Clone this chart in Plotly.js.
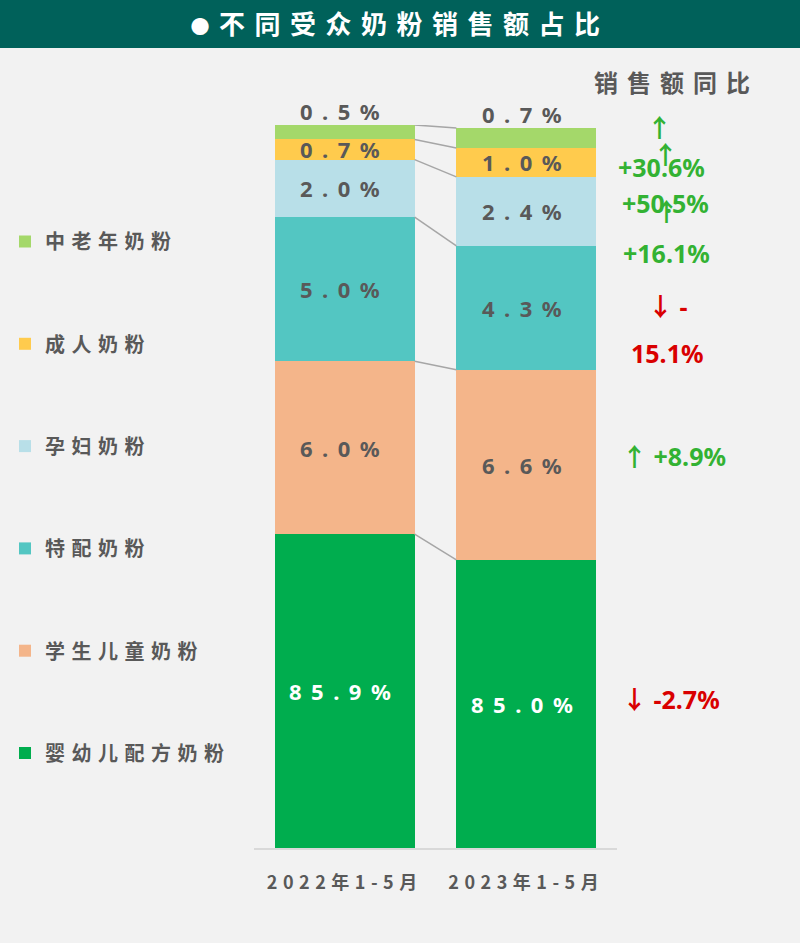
<!DOCTYPE html>
<html>
<head>
<meta charset="utf-8">
<script src="https://cdn.plot.ly/plotly-3.0.1.min.js"></script>
<style>
  html, body { margin: 0; padding: 0; background: #f2f2f2; }
  #chart { width: 800px; height: 943px; }
  .legendtext { letter-spacing: 6.5px; }
  .xtick text { letter-spacing: 5.5px; }
  .gtitle { letter-spacing: 9.5px; }
</style>
</head>
<body>
<div id="chart"></div>
<script>
// ---- data ----
const categories = ['2022年1-5月', '2023年1-5月'];
const segments = ['婴幼儿配方奶粉', '学生儿童奶粉', '特配奶粉', '孕妇奶粉', '成人奶粉', '中老年奶粉'];
const share2022 = [85.9, 6.0, 5.0, 2.0, 0.7, 0.5];
const share2023 = [85.0, 6.6, 4.3, 2.4, 1.0, 0.7];
const yoyChange = [-2.7, 8.9, -15.1, 16.1, 50.5, 30.6];
const colors = ['#00ad4e', '#f4b58a', '#53c6c2', '#b8dfe8', '#ffcb4d', '#a4d86a'];
const titleText = '不同受众奶粉销售额占比';
const yoyHeader = '销售额同比';

// ---- geometry / style ----
const W = 800, H = 943;
const M = {l: 254, r: 183, t: 125, b: 95, autoexpand: false};
const PW = W - M.l - M.r, PH = H - M.t - M.b;
const yMin = 75;                       // broken axis start
const yMax = Math.max(share2022.reduce((a, b) => a + b, 0), share2023.reduce((a, b) => a + b, 0));
const barW = 0.77;
const grey = '#595959';
const green = '#33b233', red = '#d90000';
const px = x => (x - M.l) / PW;
const py = y => (H - M.b - y) / PH;

const shares = [share2022, share2023];
const cums = shares.map(s => { let c = 0; return s.map(v => (c += v)); });

const traces = [];
// connector lines between stacked boundaries
for (let k = 0; k < segments.length; k++) {
  if (cums[0][k] < yMin || cums[1][k] < yMin) continue;
  traces.push({
    type: 'scatter', mode: 'lines',
    x: [0 + barW / 2, 1 - barW / 2],
    y: [cums[0][k], cums[1][k]],
    line: {color: '#a6a6a6', width: 1.5},
    showlegend: false, hoverinfo: 'skip', legendgroup: 'lines'
  });
}
segments.forEach((name, i) => {
  traces.push({
    type: 'bar', name: name,
    x: [0, 1], y: [share2022[i], share2023[i]],
    width: barW,
    marker: {color: colors[i], line: {width: 0}},
    legendgroup: 'g' + i,
    legendrank: 1000 + (segments.length - i),
    hoverinfo: 'none'
  });
});

const annotations = [];
const fmt = v => v.toFixed(1) + '%';
const lsSpan = (t, ls) => '<span style="letter-spacing:' + ls + 'px">' + t + '</span>';
const arrowSpan = a => '<span style="font-family:\'Noto Sans CJK SC\'">' + a + '</span>';

// segment value labels
shares.forEach((s, j) => {
  s.forEach((v, i) => {
    const top = cums[j][i], bottom = Math.max(i === 0 ? 0 : cums[j][i - 1], yMin);
    const isTop = i === s.length - 1;
    annotations.push({
      xref: 'x', yref: 'y', x: j, xanchor: 'center',
      y: isTop ? top : (top + bottom) / 2,
      yanchor: isTop ? 'bottom' : 'middle',
      yshift: isTop ? -3 : 0,
      text: lsSpan(fmt(v), 9.5),
      showarrow: false,
      font: {size: 22, color: i === 0 ? '#ffffff' : grey, family: 'Noto Sans, sans-serif', weight: 'bold'}
    });
  });
});

// YoY header
annotations.push({
  xref: 'paper', yref: 'paper', x: px(676), xanchor: 'center', y: py(81), yanchor: 'middle',
  text: lsSpan(yoyHeader, 9), showarrow: false,
  font: {size: 24, color: grey, family: 'Noto Sans CJK SC', weight: 'bold'}
});

// YoY labels (split lines as wrapped in the reference)
const yoyStyle = [
  {wrap: false, x: [671], dy: [-6]},
  {wrap: false, x: [674], dy: [-10]},
  {wrap: true, x: [668, 667], dy: [-3, 45]},
  {wrap: true, x: [666, 666], dy: [-1, 42]},
  {wrap: true, x: [665, 665], dy: [-9, 41]},
  {wrap: true, x: [659, 661], dy: [-12, 29]}
];
yoyChange.forEach((v, i) => {
  const arrow = arrowSpan(v >= 0 ? '↑' : '↓');
  const val = (v >= 0 ? '+' : '-') + Math.abs(v).toFixed(1) + '%';
  const col = v >= 0 ? green : red;
  const top = cums[1][i], bottom = Math.max(i === 0 ? 0 : cums[1][i - 1], yMin);
  const mid = (top + bottom) / 2;
  const st = yoyStyle[i];
  let parts;
  if (!st.wrap) parts = [arrow + ' ' + val];
  else if (v < 0) parts = [arrow + ' -', val.slice(1)];
  else parts = [arrow, val];
  parts.forEach((t, k) => {
    annotations.push({
      xref: 'paper', yref: 'y', x: px(st.x[k]), xanchor: 'center', y: mid, yanchor: 'middle',
      yshift: -st.dy[k], text: t, showarrow: false,
      font: {size: 25, color: col, family: 'Noto Sans, Noto Sans CJK SC, sans-serif', weight: 'bold'}
    });
  });
});

const layout = {
  width: W, height: H,
  margin: M,
  paper_bgcolor: '#f2f2f2', plot_bgcolor: '#f2f2f2',
  barmode: 'stack', bargap: 0,
  title: {
    text: '<span style="font-size:19px">●</span>' + titleText, xref: 'container', x: 0.5, xanchor: 'center',
    yref: 'container', y: 1 - 25 / H, yanchor: 'middle',
    font: {size: 26, color: '#ffffff', family: 'Noto Sans CJK SC', weight: 'bold'}
  },
  shapes: [{
    type: 'rect', xref: 'paper', yref: 'paper', layer: 'below',
    x0: px(-5), x1: px(W + 5), y0: py(48), y1: py(-5),
    fillcolor: '#00615a', line: {width: 0}
  }],
  xaxis: {
    range: [-0.5, 1.5], tickvals: [0, 1], ticktext: categories,
    showline: true, linecolor: '#d9d9d9', linewidth: 1.5,
    showgrid: false, zeroline: false, ticks: '', ticklabelstandoff: 18,
    tickfont: {size: 18, color: grey, family: 'Noto Sans CJK SC', weight: 'bold'},
    fixedrange: true
  },
  yaxis: {range: [yMin, yMax], visible: false, fixedrange: true},
  showlegend: true,
  legend: {
    x: px(5), xanchor: 'left', y: py(222), yanchor: 'top',
    orientation: 'v', traceorder: 'grouped', tracegroupgap: 73.3,
    bgcolor: 'rgba(0,0,0,0)',
    font: {size: 20, color: grey, family: 'Noto Sans CJK SC', weight: 'bold'}
  },
  annotations: annotations
};

Plotly.newPlot('chart', traces, layout, {displayModeBar: false, staticPlot: true});
</script>
</body>
</html>
